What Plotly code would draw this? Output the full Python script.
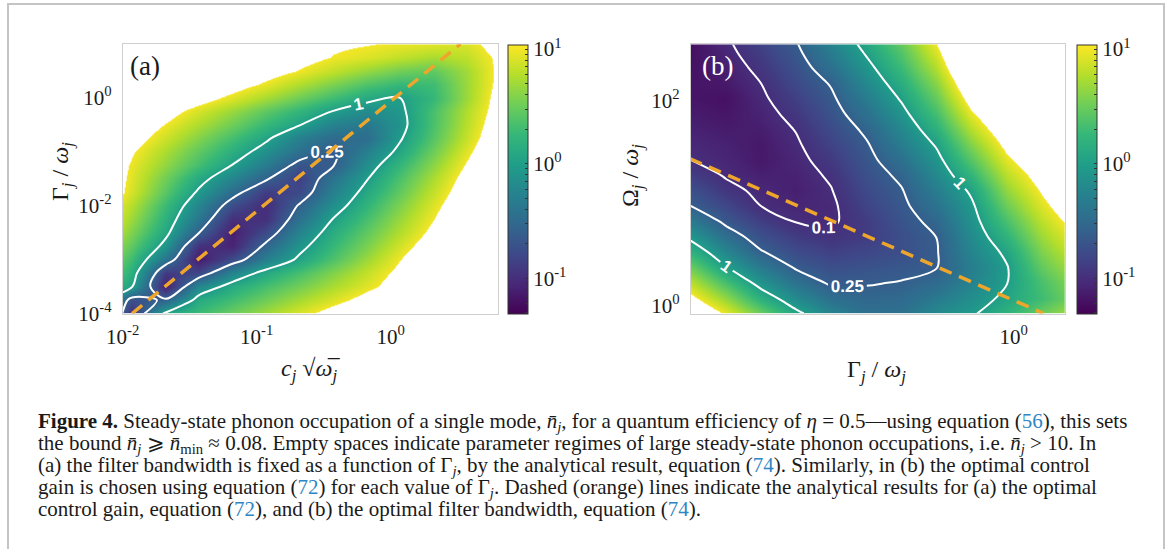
import numpy as np
import plotly.graph_objects as go
from plotly.colors import sequential, make_colorscale, sample_colorscale

W, H = 1168, 549

# ---------------- data (log10 values) ----------------
# panel (a): x = log10(c_j sqrt(omega_j)), y = log10(Gamma_j/omega_j), z = log10(n_j)
a_log_c = [-2.18, -1.93, -1.68, -1.43, -1.18, -0.93, -0.68, -0.43, -0.18, 0.07, 0.32, 0.57, 0.82]
a_log_gamma = [-4.0, -3.75, -3.5, -3.25, -3.0, -2.75, -2.5, -2.25, -2.0, -1.75, -1.5,
               -1.25, -1.0, -0.75, -0.5, -0.25, 0.0, 0.25, 0.5, 0.75, 1.0]
a_log_n = [
    [0.35, -1.0, 0.08, 0.29, 0.50, 0.70, 0.91, 1.12, 1.33, 1.53, 1.74, 1.95, 2.0],
    [0.36, -0.75, -0.55, 0.13, 0.32, 0.52, 0.72, 0.91, 1.11, 1.31, 1.5, 1.7, 1.9],
    [0.52, 0.02, -1.12, -0.22, 0.12, 0.33, 0.53, 0.73, 0.93, 1.14, 1.34, 1.54, 1.75],
    [0.66, 0.16, -0.92, -0.8, -0.23, 0.11, 0.35, 0.59, 0.83, 1.08, 1.32, 1.56, 1.8],
    [0.8, 0.3, -0.4, -1.15, -0.77, -0.3, 0.06, 0.37, 0.68, 0.99, 1.3, 1.61, 1.92],
    [0.94, 0.44, -0.1, -0.98, -1.07, -0.53, -0.09, 0.25, 0.56, 0.88, 1.19, 1.5, 1.81],
    [1.08, 0.58, 0.08, -0.6, -1.12, -0.78, -0.25, 0.14, 0.45, 0.76, 1.08, 1.39, 1.7],
    [1.18, 0.68, 0.18, -0.38, -0.99, -0.98, -0.42, 0.01, 0.34, 0.67, 1.0, 1.33, 1.66],
    [1.2, 0.78, 0.28, -0.23, -0.76, -1.02, -0.57, -0.15, 0.22, 0.57, 0.92, 1.26, 1.61],
    [1.36, 0.89, 0.42, -0.05, -0.48, -0.89, -0.79, -0.29, 0.1, 0.46, 0.83, 1.19, 1.55],
    [1.34, 0.93, 0.52, 0.11, -0.24, -0.57, -0.86, -0.41, -0.02, 0.36, 0.74, 1.12, 1.5],
    [1.3, 0.97, 0.64, 0.32, -0.01, -0.33, -0.7, -0.62, -0.15, 0.24, 0.63, 1.03, 1.43],
    [1.33, 1.03, 0.74, 0.45, 0.16, -0.13, -0.44, -0.65, -0.29, 0.08, 0.51, 0.93, 1.36],
    [1.4, 1.13, 0.86, 0.59, 0.32, 0.05, -0.3, -0.5, -0.47, -0.03, 0.41, 0.84, 1.28],
    [1.47, 1.22, 0.98, 0.74, 0.5, 0.25, 0.01, -0.28, -0.38, -0.1, 0.36, 0.79, 1.22],
    [1.57, 1.34, 1.12, 0.89, 0.67, 0.44, 0.22, -0.01, -0.18, -0.07, 0.35, 0.76, 1.16],
    [1.68, 1.49, 1.31, 1.12, 0.92, 0.72, 0.5, 0.3, 0.1, 0.0, 0.25, 0.68, 1.15],
    [1.78, 1.62, 1.45, 1.29, 1.13, 0.96, 0.76, 0.57, 0.38, 0.25, 0.3, 0.68, 1.1],
    [1.78, 1.65, 1.52, 1.38, 1.25, 1.12, 0.98, 0.82, 0.66, 0.52, 0.45, 0.7, 1.08],
    [1.68, 1.58, 1.49, 1.39, 1.3, 1.2, 1.11, 0.99, 0.92, 0.82, 0.73, 0.81, 1.07],
    [1.32, 1.28, 1.24, 1.2, 1.16, 1.12, 1.08, 1.04, 1.01, 0.97, 0.93, 0.9, 1.15],
]
a_dash_log_c = [-1.93, 0.52]
a_dash_log_gamma = [-4.0, 1.0]
a_levels = [0.25, 1]

# panel (b): x = log10(Gamma_j/omega_j), y = log10(Omega_j/omega_j), z = log10(n_j)
b_log_gamma = [-0.92, -0.82, -0.72, -0.62, -0.52, -0.42, -0.32, -0.22, -0.12, -0.02, 0.08, 0.18]
b_log_omega = [-0.08, 0.07, 0.22, 0.37, 0.52, 0.67, 0.82, 0.97, 1.12, 1.27, 1.42, 1.57,
               1.72, 1.87, 2.02, 2.17, 2.32, 2.47, 2.62]
b_log_n = [
    [1.37, 0.96, 0.5, 0.07, -0.25, -0.45, -0.43, -0.19, -0.04, 0.21, 0.5, 0.75],
    [1.08, 0.65, 0.17, -0.19, -0.46, -0.53, -0.51, -0.34, -0.15, 0.07, 0.3, 0.58],
    [0.79, 0.33, -0.11, -0.43, -0.64, -0.62, -0.59, -0.50, -0.26, -0.01, 0.35, 0.65],
    [0.5, 0.02, -0.35, -0.63, -0.74, -0.71, -0.67, -0.61, -0.31, -0.02, 0.46, 0.77],
    [0.21, -0.22, -0.58, -0.76, -0.85, -0.8, -0.74, -0.62, -0.24, 0.06, 0.57, 0.89],
    [-0.07, -0.46, -0.73, -0.89, -0.96, -0.89, -0.74, -0.6, -0.18, 0.21, 0.69, 1.01],
    [-0.34, -0.66, -0.87, -1.01, -1.03, -0.89, -0.70, -0.53, -0.11, 0.35, 0.8, 1.13],
    [-0.6, -0.8, -1.0, -1.06, -1.04, -0.83, -0.66, -0.42, -0.05, 0.5, 0.92, 1.25],
    [-0.73, -0.93, -1.05, -1.11, -1.01, -0.78, -0.62, -0.31, 0.05, 0.65, 1.03, 1.37],
    [-0.87, -1.02, -1.1, -1.09, -0.97, -0.73, -0.55, -0.2, 0.23, 0.79, 1.14, 1.49],
    [-1.0, -1.06, -1.15, -1.06, -0.91, -0.68, -0.44, -0.09, 0.41, 0.94, 1.26, 1.6],
    [-1.04, -1.09, -1.15, -1.03, -0.84, -0.63, -0.32, 0.03, 0.6, 1.09, 1.37, 1.72],
    [-1.09, -1.13, -1.12, -0.99, -0.78, -0.55, -0.21, 0.18, 0.78, 1.24, 1.49, 1.84],
    [-1.13, -1.17, -1.08, -0.93, -0.71, -0.44, -0.09, 0.33, 0.96, 1.38, 1.6, 1.96],
    [-1.17, -1.2, -1.04, -0.86, -0.65, -0.32, 0.03, 0.48, 1.15, 1.53, 1.72, 2.0],
    [-1.18, -1.15, -1.0, -0.79, -0.58, -0.2, 0.15, 0.62, 1.33, 1.68, 1.83, 2.0],
    [-1.2, -1.11, -0.94, -0.73, -0.45, -0.09, 0.28, 0.77, 1.51, 1.82, 1.95, 2.0],
    [-1.21, -1.06, -0.88, -0.66, -0.33, 0.03, 0.4, 0.92, 1.7, 1.97, 2.0, 2.0],
    [-1.22, -1.02, -0.82, -0.59, -0.21, 0.14, 0.53, 1.07, 1.88, 2.0, 2.0, 2.0],
]
b_dash_log_gamma = [-0.923, 0.085]
b_dash_log_omega = [1.434, -0.08]
b_levels = [0.1, 0.25, 1]

# axis ticks
a_xtick_vals = [-2, -1, 0]
a_ytick_vals = [-4, -2, 0]
b_xtick_vals = [0]
b_ytick_vals = [0, 2]

# colour range (log10 n) and the cut above which the map is empty (n > 10)
CMIN, CMAX, CUT, ZTOP = -1.31, 1.035, 1.0, 2.0

def dec(v):
    return "10<sup>%d</sup>" % v

# ---------------- colour scales ----------------
vir = make_colorscale(sequential.Viridis)
stops = []
n_st = 40
for i in range(n_st + 1):
    z = CMIN + (CUT - CMIN) * i / n_st
    t = (z - CMIN) / (CMAX - CMIN)
    stops.append([(z - CMIN) / (ZTOP - CMIN), sample_colorscale(vir, [t])[0]])
pc = (CUT - CMIN) / (ZTOP - CMIN)
stops.append([pc + 1e-4, "white"])
stops.append([1.0, "white"])

# colorbar minor+major ticks
cb_vals, cb_text = [], []
for d in range(-2, 2):
    for k in range(1, 10):
        v = d + np.log10(k)
        if CMIN - 1e-9 <= v <= CMAX + 1e-9:
            cb_vals.append(v)
            cb_text.append(dec(d) if k == 1 else " ")

serif = "Liberation Serif"
fig = go.Figure()

def add_panel(xv, yv, zv, levels, dx, dy, xa, ya, cbx):
    zz = np.array(zv, dtype=float)
    fig.add_trace(go.Heatmap(x=xv, y=yv, z=zz, zsmooth="best", colorscale=stops,
                             zmin=CMIN, zmax=ZTOP, showscale=False, hoverinfo="skip",
                             xaxis=xa, yaxis=ya))
    for lv in levels:
        # contour of log10(n) = log10(lv); shifted so that the label reads the value of n
        zc = zz - np.log10(lv) + lv
        fig.add_trace(go.Contour(x=xv, y=yv, z=zc, autocontour=False,
                                 contours=dict(start=lv, end=lv, size=1, coloring="none",
                                               showlabels=True,
                                               labelfont=dict(family="Liberation Sans", size=17,
                                                              color="white", weight="bold")),
                                 line=dict(color="white", width=2, smoothing=1.0),
                                 showscale=False, hoverinfo="skip", xaxis=xa, yaxis=ya))
    fig.add_trace(go.Scatter(x=dx, y=dy, mode="lines", xaxis=xa, yaxis=ya,
                             line=dict(color="#EDA62B", width=3.5, dash="13px,8px"),
                             hoverinfo="skip", showlegend=False))
    cbar = dict(x=cbx / W, xanchor="left", xpad=0,
                y=1 - 45 / H, yanchor="top", ypad=0,
                len=(313.5 - 45) / H, lenmode="fraction",
                thickness=20, thicknessmode="pixels",
                outlinewidth=1, outlinecolor="#333333",
                tickmode="array", tickvals=cb_vals, ticktext=cb_text,
                ticks="inside", ticklen=3, tickcolor="#333333",
                tickfont=dict(family=serif, size=21, color="#1a1a1a"))
    fig.add_trace(go.Scatter(x=[None], y=[None], mode="markers", xaxis=xa, yaxis=ya,
                             showlegend=False, hoverinfo="skip",
                             marker=dict(color=[0.0], colorscale="Viridis", cmin=CMIN, cmax=CMAX,
                                         showscale=True, colorbar=cbar)))

add_panel(a_log_c, a_log_gamma, a_log_n, a_levels, a_dash_log_c, a_dash_log_gamma, "x", "y", 508.3)
add_panel(b_log_gamma, b_log_omega, b_log_n, b_levels, b_dash_log_gamma, b_dash_log_omega, "x2", "y2", 1077)

ax_common = dict(showgrid=False, zeroline=False, showline=True, mirror=True,
                 linecolor="#cfcfcf", linewidth=1, ticks="", tickmode="array",
                 tickfont=dict(family=serif, size=21, color="#1a1a1a"))
ydom = [1 - 313.5 / H, 1 - 44.3 / H]
fig.update_layout(
    width=W, height=H, margin=dict(l=0, r=0, t=0, b=0, pad=0, autoexpand=False),
    paper_bgcolor="white", plot_bgcolor="white", showlegend=False,
    xaxis=dict(domain=[122.7 / W, 498 / W], range=[-2, 0.8], tickvals=a_xtick_vals,
               ticktext=[dec(v) for v in a_xtick_vals], ticklabelstandoff=4, **ax_common),
    yaxis=dict(domain=ydom, range=[-4, 0.994], tickvals=a_ytick_vals,
               ticktext=[dec(v) for v in a_ytick_vals], ticklabelstandoff=6, **ax_common),
    xaxis2=dict(domain=[690.7 / W, 1065 / W], range=[-0.92, 0.146], tickvals=b_xtick_vals,
                ticktext=[dec(v) for v in b_xtick_vals], ticklabelstandoff=4, anchor="y2",
                **ax_common),
    yaxis2=dict(domain=ydom, range=[-0.08, 2.55], tickvals=b_ytick_vals,
                ticktext=[dec(v) for v in b_ytick_vals], ticklabelstandoff=6, anchor="x2",
                **ax_common),
)

ann = []
def txt(x, y, s, size, color="#1a1a1a", angle=0, xanchor="center", family=serif):
    ann.append(dict(x=x / W, y=1 - y / H, xref="paper", yref="paper", text=s, showarrow=False,
                    xanchor=xanchor, yanchor="middle", textangle=angle,
                    font=dict(family=family, size=size, color=color)))

txt(145, 66, "(a)", 27)
txt(717, 66, "(b)", 27, color="white")
txt(62, 172, "Γ<sub><i>j</i></sub> / <i>ω<sub>j</sub></i>", 24, angle=-90)
txt(310, 370, "<i>c<sub>j</sub></i> √<i>ω̅<sub>j</sub></i>", 24)
txt(876, 371, "Γ<sub><i>j</i></sub> / <i>ω<sub>j</sub></i>", 24)
txt(632, 176, "Ω<sub><i>j</i></sub> / <i>ω<sub>j</sub></i>", 24, angle=-90)

blue = "#2f86c4"
def b(n):
    return "<span style='color:%s'>%s</span>" % (blue, n)
nj = "<i>n̄<sub>j</sub></i>"
cap = [
    "<b>Figure 4.</b> Steady-state phonon occupation of a single mode, " + nj +
    ", for a quantum efficiency of <i>η</i> = 0.5—using equation (" + b("56") + "), this sets",
    "the bound " + nj + " ⩾ <i>n̄</i><sub>min</sub> ≈ 0.08. Empty spaces indicate parameter regimes "
    "of large steady-state phonon occupations, i.e. " + nj + " > 10. In",
    "(a) the filter bandwidth is fixed as a function of Γ<sub><i>j</i></sub>, by the analytical result, "
    "equation (" + b("74") + "). Similarly, in (b) the optimal control",
    "gain is chosen using equation (" + b("72") + ") for each value of Γ<sub><i>j</i></sub>. Dashed "
    "(orange) lines indicate the analytical results for (a) the optimal",
    "control gain, equation (" + b("72") + "), and (b) the optimal filter bandwidth, equation (" + b("74") + ").",
]
cap_y = [422, 444, 466, 487.5, 509]
for s, yy in zip(cap, cap_y):
    txt(36, yy, s, 21, xanchor="left")

fig.update_layout(annotations=ann)
fig.add_shape(type="rect", xref="paper", yref="paper", x0=8 / W, x1=1164 / W,
              y0=-0.2, y1=1 - 4 / H, line=dict(color="#c4c4c4", width=2), layer="above")

fig.write_html("out.html")
